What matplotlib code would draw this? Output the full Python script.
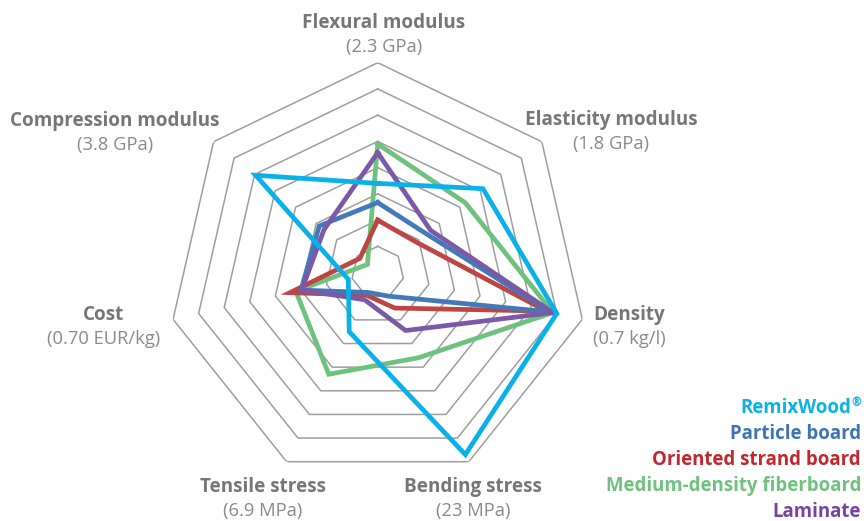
#!/usr/bin/env python3
"""Radar chart: RemixWood vs. common wood-based panels."""

import numpy as np
import matplotlib
matplotlib.use('Agg')
import matplotlib.pyplot as plt

plt.rcParams['font.family'] = ['Open Sans', 'DejaVu Sans']

# axes, clockwise from the top
axis_names = ['Flexural modulus', 'Elasticity modulus', 'Density', 'Bending stress',
              'Tensile stress', 'Cost', 'Compression modulus']
axis_units = ['(2.3 GPa)', '(1.8 GPa)', '(0.7 kg/l)', '(23 MPa)',
              '(6.9 MPa)', '(0.70 EUR/kg)', '(3.8 GPa)']

# values in grid rings (8 rings = outer edge)
remixwood = [3.4, 5.13, 7.0, 7.7, 2.5, 1.15, 5.95]
particle = [2.67, 2.37, 6.75, 1.0, 0.84, 3.0, 2.85]
osb = [2.0, 1.87, 6.6, 1.5, 0.96, 3.43, 0.87]
mdf = [4.9, 4.27, 6.85, 3.6, 4.3, 3.2, 0.5]
laminate = [4.57, 2.58, 6.85, 2.45, 1.15, 2.97, 2.62]

series_names = ['RemixWood', 'Particle board', 'Oriented strand board',
                'Medium-density fiberboard', 'Laminate']
line_colors = ['#0ab1e9', '#4379b9', '#bd4644', '#6fc27d', '#7a5aa6']
text_colors = ['#0ab1e9', '#3d74b5', '#c0282e', '#6fc27d', '#7444a0']

N_RINGS = 8
GRID = '#9e9e9e'
LABEL = '#767676'
UNIT = '#8a8a8a'

W, H = 864, 521
fig = plt.figure(figsize=(W / 100, H / 100), dpi=100)

# polar axes centred on (377.7, 272.6) px, radius 209.9 px
cx, cy, R = 377.7, 272.6, 209.9
ax = fig.add_axes([(cx - R) / W, (H - cy - R) / H, 2 * R / W, 2 * R / H],
                  projection='polar')
ax.set_theta_offset(np.pi / 2)
ax.set_theta_direction(-1)
ax.set_ylim(0, N_RINGS)
ax.axis('off')

theta = np.linspace(0, 2 * np.pi, len(axis_names), endpoint=False)
theta_c = np.append(theta, theta[0])

# heptagonal grid rings
for k in range(1, N_RINGS + 1):
    ax.plot(theta_c, [k] * len(theta_c), color=GRID, lw=1.1, zorder=1)

order = [3, 2, 1, 4, 0]
data = [remixwood, particle, osb, mdf, laminate]
for i in order:
    vals = data[i] + data[i][:1]
    ax.plot(theta_c, vals, color=line_colors[i], lw=3.4, zorder=3 + order.index(i),
            solid_joinstyle='miter')

# axis labels (pixel positions of centres)
label_pos = [(384, 23), (611, 120), (629, 315), (473, 487),
             (263, 487), (104, 315), (115, 121)]
for name, unit, (px, py) in zip(axis_names, axis_units, label_pos):
    fig.text(px / W, 1 - py / H, name, ha='center', va='center',
             fontsize=13.6, fontweight='bold', color=LABEL)
    fig.text(px / W, 1 - (py + 24) / H, unit, ha='center', va='center',
             fontsize=13.2, color=UNIT)

# legend as coloured text, right aligned
for j, (name, col) in enumerate(zip(series_names, text_colors)):
    y = 1 - (408 + 26 * j) / H
    if j == 0:
        fig.text(851 / W, y, name, ha='right', va='center', fontsize=13.4,
                 fontweight='bold', color=col)
        fig.text(861 / W, y + 6 / H, '®', ha='right', va='center', fontsize=8.5,
                 fontweight='bold', color=col)
    else:
        fig.text(861 / W, y, name, ha='right', va='center', fontsize=13.4,
                 fontweight='bold', color=col)

fig.savefig('out.png', dpi=100)
